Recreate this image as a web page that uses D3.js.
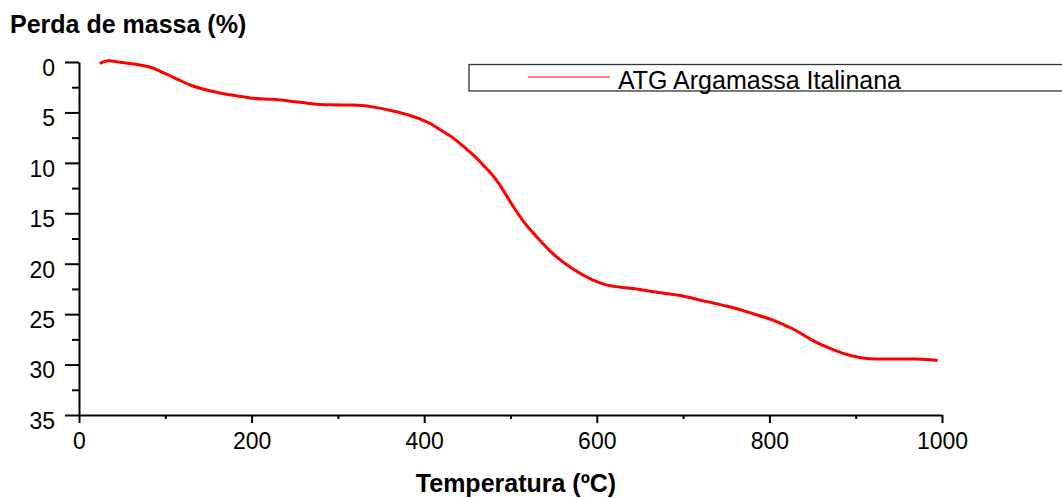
<html lang="pt">
  <head>
    <meta charset="UTF-8" />
    <title>ATG Argamassa Italinana</title>
    <style>
      body { margin: 0; background: #fff; }
      text { font-family: "Liberation Sans", Arial, sans-serif; fill: #000; }
    </style>
  </head>
  <body>
    <script src="https://cdn.jsdelivr.net/npm/d3@7"></script>
    <script>
      // values
      let temperatura = [24, 34, 48, 66, 82, 100, 115, 129, 148, 171, 190, 202, 225, 256, 290, 318, 340, 364, 380, 395,
        410, 420, 433, 445, 458, 468, 478, 487, 495, 503, 515, 530, 549, 572, 595, 611, 630, 642, 660, 680,
        700, 719, 735, 750, 777, 804, 815, 827, 840, 850, 873, 896, 923, 950, 970, 995];
      let perda = [0.13, -0.13, 0.03, 0.23, 0.5, 1.15, 1.75, 2.28, 2.78, 3.2, 3.45, 3.6, 3.7, 4.0, 4.25, 4.26, 4.45, 4.86, 5.2, 5.65,
        6.25, 6.8, 7.5, 8.35, 9.3, 10.2, 11.1, 12.1, 13.2, 14.3, 15.8, 17.3, 19.0, 20.5, 21.6, 22.1, 22.35, 22.45, 22.7, 22.95,
        23.2, 23.6, 23.9, 24.2, 24.85, 25.6, 26.0, 26.45, 27.1, 27.6, 28.5, 29.15, 29.45, 29.45, 29.45, 29.6];
      let xTicks = [0, 200, 400, 600, 800, 1000];
      let xMinor = [100, 300, 500, 700, 900];
      let yTicks = [0, 5, 10, 15, 20, 25, 30, 35];
      let yMinor = [2.5, 7.5, 12.5, 17.5, 22.5, 27.5, 32.5];
      let serie = "ATG Argamassa Italinana";

      let width = 1062, height = 498;
      let svg = d3.select("body").append("svg")
        .attr("width", width)
        .attr("height", height);

      let x = d3.scaleLinear().domain([0, 1000]).range([79, 942]);
      let y = d3.scaleLinear().domain([0, 35]).range([62, 415]);

      // minor ticks first, so the main axes sit on top
      svg.append("g")
        .attr("transform", "translate(0,415)")
        .call(d3.axisBottom(x).tickValues(xMinor).tickSize(4).tickFormat(""))
        .call(g => g.select(".domain").remove());
      svg.append("g")
        .attr("transform", "translate(79,0)")
        .call(d3.axisLeft(y).tickValues(yMinor).tickSize(7).tickFormat(""))
        .call(g => g.select(".domain").remove());

      let xAxis = svg.append("g")
        .attr("transform", "translate(0,415)")
        .call(d3.axisBottom(x).tickValues(xTicks).tickFormat(d3.format("d"))
          .tickSize(8).tickSizeOuter(0).tickPadding(10));
      xAxis.selectAll("text").style("font-size", "23px");

      let yAxis = svg.append("g")
        .attr("transform", "translate(79,0)")
        .call(d3.axisLeft(y).tickValues(yTicks).tickFormat(d3.format("d"))
          .tickSize(14).tickSizeOuter(0).tickPadding(10));
      yAxis.selectAll("text").style("font-size", "23px").attr("y", 6);

      svg.selectAll(".domain, .tick line").attr("stroke", "#000").attr("stroke-width", 2);

      let line = d3.line()
        .x((d, i) => x(temperatura[i]))
        .y(d => y(d))
        .curve(d3.curveMonotoneX);

      svg.append("path")
        .datum(perda)
        .attr("d", line)
        .attr("fill", "none")
        .attr("stroke", "#ff0000")
        .attr("stroke-width", 3);

      // legend
      svg.append("rect")
        .attr("x", 469).attr("y", 64.5)
        .attr("width", 620).attr("height", 26.5)
        .attr("fill", "none")
        .attr("stroke", "#333")
        .attr("stroke-width", 1.3);
      svg.append("line")
        .attr("x1", 528).attr("x2", 610)
        .attr("y1", 77).attr("y2", 77)
        .attr("stroke", "#ff0000")
        .attr("stroke-width", 1.2);
      svg.append("text")
        .attr("x", 618).attr("y", 89)
        .style("font-size", "25px")
        .text(serie);

      svg.append("text")
        .attr("x", 10).attr("y", 33)
        .style("font-size", "25px")
        .style("font-weight", "bold")
        .text("Perda de massa (%)");

      svg.append("text")
        .attr("x", 516).attr("y", 492)
        .attr("text-anchor", "middle")
        .style("font-size", "25px")
        .style("font-weight", "bold")
        .text("Temperatura (ºC)");
    </script>
  </body>
</html>
